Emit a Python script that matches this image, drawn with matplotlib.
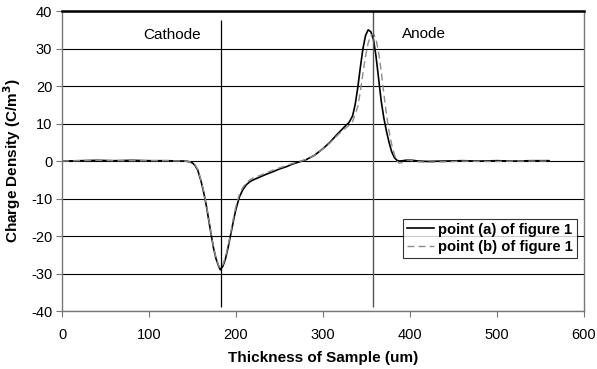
import matplotlib
matplotlib.use('Agg')
import matplotlib.pyplot as plt

plt.rcParams['font.family'] = ['Liberation Sans', 'DejaVu Sans']
plt.rcParams['axes.unicode_minus'] = False

# thickness positions (um), shared by both series
thickness = [0, 20, 40, 60, 80, 100, 120, 140, 145, 150, 153, 156, 160, 163, 166, 168,
             171, 174, 177, 180, 182, 185, 188, 191, 194, 197, 200, 204, 208, 212,
             216, 220, 228, 235, 243, 250, 258, 265, 273, 280, 290, 300, 308, 315,
             320, 325, 330, 334, 337, 340, 343, 346, 349, 352, 355, 358, 361, 364,
             367, 370, 373, 376, 379, 382, 385, 388, 392, 397, 403, 410, 420, 440,
             460, 480, 500, 520, 540, 560]

point_a = [0.0, 0.1, 0.2, 0.1, 0.2, 0.1, 0.1, 0.0, -0.1, -0.5, -1.2, -2.4, -5.5, -8.5,
           -12.0, -14.8, -19.0, -23.0, -26.0, -28.0, -29.0, -28.0, -26.0, -23.0, -19.5,
           -16.0, -12.8, -9.5, -7.6, -6.3, -5.5, -5.0, -4.2, -3.5, -2.8, -2.1, -1.5,
           -0.8, -0.2, 0.3, 1.5, 3.3, 5.0, 6.8, 8.0, 9.2, 10.3, 12.0, 15.0, 19.5, 25.0,
           30.0, 33.5, 35.0, 34.5, 32.5, 28.0, 22.0, 16.0, 11.5, 8.0, 5.0, 2.5, 1.0,
           0.2, 0.0, 0.1, 0.3, 0.2, 0.0, -0.1, 0.0, 0.1, 0.0, 0.1, 0.0, 0.1, 0.1]

point_b = [0.0, 0.1, 0.2, 0.1, 0.1, 0.1, 0.1, 0.0, -0.1, -0.4, -1.0, -2.2, -5.2, -8.2,
           -11.8, -14.5, -18.8, -22.8, -25.8, -27.8, -28.6, -27.6, -25.5, -22.5, -19.0,
           -15.3, -12.0, -8.8, -7.0, -5.8, -5.0, -4.5, -3.8, -3.1, -2.4, -1.8, -1.2,
           -0.6, -0.1, 0.4, 1.5, 3.3, 4.8, 6.5, 7.6, 8.6, 9.5, 10.5, 12.5, 14.5, 18.5,
           23.5, 28.0, 31.5, 33.5, 34.0, 32.5, 29.0, 24.0, 18.0, 12.5, 8.0, 4.5, 1.8,
           0.0, -0.6, -0.3, 0.3, 0.1, -0.2, -0.3, -0.2, 0.0, -0.1, -0.1, 0.0, 0.0, 0.0]

electrode_x = [183, 358]
electrode_names = ['Cathode', 'Anode']

fig = plt.figure(figsize=(5.97, 3.69), dpi=100)
ax = fig.add_axes([0.1039, 0.157, 0.8741, 0.813])

ax.set_xlim(0, 600)
ax.set_ylim(-40, 40)
ax.set_xticks(range(0, 601, 100))
ax.set_yticks(range(-40, 41, 10))
ax.yaxis.grid(True, color='black', linewidth=0.8)
ax.set_axisbelow(True)

ax.plot(thickness, point_a, color='black', linewidth=1.2, label='point (a) of figure 1')
ax.plot(thickness, point_b, color='#8c8c8c', linewidth=1.0, dashes=(5, 3),
        label='point (b) of figure 1')

ax.vlines(electrode_x[0], -39, 37.5, color='black', linewidth=0.9)
ax.vlines(electrode_x[1], -39, 40, color='#555555', linewidth=1.0)
ax.text(126, 33.6, electrode_names[0], fontsize=11, ha='center', va='center')
ax.text(416, 34, electrode_names[1], fontsize=11, ha='center', va='center')

for side in ['left', 'bottom', 'right']:
    ax.spines[side].set_color('#777777')
    ax.spines[side].set_linewidth(1.0)
ax.spines['top'].set_color('black')
ax.spines['top'].set_linewidth(1.8)

ax.tick_params(direction='out', length=4, color='#777777', labelsize=10.5, pad=8)
ax.tick_params(axis='y', pad=3)

ax.set_xlabel('Thickness of Sample (um)', fontsize=11, fontweight='bold', labelpad=7)
ax.set_ylabel('Charge Density (C/m$^\\mathbf{3}$)', fontsize=11, fontweight='bold', labelpad=6)

leg = ax.legend(loc='lower right', bbox_to_anchor=(0.9866, 0.177),
                prop={'weight': 'bold', 'size': 10.7}, frameon=True, fancybox=False,
                handlelength=1.8, handletextpad=0.3, borderpad=0.25, labelspacing=0.25,
                borderaxespad=0)
leg.get_frame().set_edgecolor('black')
leg.get_frame().set_linewidth(0.8)

fig.savefig('out.png', dpi=100)
plt.close(fig)
